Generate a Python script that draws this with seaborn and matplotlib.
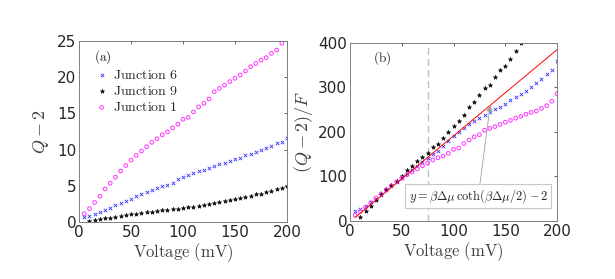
import numpy as np
import pandas as pd
import seaborn as sns
import matplotlib
matplotlib.use("Agg")
import matplotlib.pyplot as plt

# voltages (mV)
volt = list(range(5, 205, 5))

# panel (a): Q - 2
j6_q = [0.7, 0.8, 1.15, 1.4, 1.7, 2.0, 2.35, 2.65, 2.95, 3.2, 3.55, 3.8, 4.1, 4.4, 4.65, 4.95,
        5.15, 5.45, 5.9, 6.2, 6.45, 6.8, 7.0, 7.25, 7.45, 7.7, 7.95, 8.15, 8.45, 8.65, 8.9, 9.2,
        9.4, 9.7, 9.95, 10.25, 10.5, 10.85, 11.1, 11.55]
j9_q = [np.nan, 0.15, 0.25, 0.4, 0.5, 0.6, 0.75, 0.85, 0.95, 1.05, 1.15, 1.25, 1.35, 1.45, 1.5,
        1.6, 1.7, 1.75, 1.85, 1.95, 2.05, 2.1, 2.25, 2.35, 2.5, 2.65, 2.7, 2.9, 3.05, 3.15, 3.25,
        3.45, 3.6, 3.8, 3.9, 4.1, 4.3, 4.5, 4.7, 4.95]
j1_q = [1.15, 1.85, 2.7, 3.55, 4.57, 5.35, 6.2, 7.05, 7.8, 8.55, 9.2, 9.8, 10.4, 11.0, 11.5,
        12.05, 12.45, 13.0, 13.5, 14.2, 14.45, 15.2, 15.9, 16.4, 17.0, 18.0, 18.45, 18.9, 19.4,
        19.85, 20.3, 20.85, 21.45, 21.9, 22.35, 22.7, 23.3, 23.75, 24.7, 26.2]

# panel (b): (Q - 2)/F
j6_f = [22, 28, 34, 42, 49, 58, 70, 79, 87, 96, 105, 115, 124, 133, 142, 150, 158, 168, 180,
        191, 200, 209, 218, 224, 231, 238, 244, 251, 257, 264, 273, 279, 285, 292, 300, 309,
        318, 330, 339, 360]
j9_f = [np.nan, 10, 23, 34, 47, 61, 71, 81, 90, 102, 114, 123, 134, 144, 153, 167, 173, 187,
        199, 214, 225, 239, 256, 268, 283, 298, 305, 324, 340, 349, 365, 381, 400, 418, 436,
        455, 472, 492, 510, 530]
j1_f = [13, 21, 31, 41, 52, 61, 70, 79, 88, 96, 104, 110, 117, 124, 130, 137, 142, 146, 152,
        161, 164, 174, 182, 189, 194, 204, 208, 212, 217, 222, 226, 231, 235, 240, 244, 247,
        253, 259, 269, 286]

# theory line
fit_v = [5, 75, 135, 200]
fit_y = [8, 143, 259, 385]

labels = ["Junction 6", "Junction 9", "Junction 1"]

sns.set_theme(style="white")
plt.rcParams["font.family"] = ["DejaVu Sans"]
plt.rcParams["mathtext.fontset"] = "cm"

tick_col = "#262626"
styles = {
    "Junction 6": dict(marker="x", s=6, color="#3333ff", linewidth=0.6),
    "Junction 9": dict(marker="*", s=9, color="#111111", edgecolor="#111111", linewidth=0.5),
    "Junction 1": dict(marker="o", s=7, facecolor="none", edgecolor="#ff33ff", linewidth=0.7),
}

fig = plt.figure(figsize=(6.15, 2.79), dpi=100)
ax1 = fig.add_axes([0.1285, 0.2043, 0.3382, 0.6487])
ax2 = fig.add_axes([0.5691, 0.2079, 0.3366, 0.638])

df_a = pd.DataFrame({"v": volt, "Junction 6": j6_q, "Junction 9": j9_q, "Junction 1": j1_q})
df_b = pd.DataFrame({"v": volt, "Junction 6": j6_f, "Junction 9": j9_f, "Junction 1": j1_f})

for name in labels:
    lab = r"$\mathrm{" + name.replace(" ", r"\ ") + "}$"
    sns.scatterplot(data=df_a, x="v", y=name, ax=ax1, label=lab, **styles[name])
    sns.scatterplot(data=df_b, x="v", y=name, ax=ax2, legend=False, **styles[name])

ax2.axvline(75, color="#c0c0c0", ls=(0, (5, 3)), lw=1.0, zorder=0)
sns.lineplot(x=fit_v, y=fit_y, ax=ax2, color="red", lw=0.7)

ax1.set_xlim(0, 200)
ax1.set_ylim(0, 25)
ax1.set_yticks([0, 5, 10, 15, 20, 25])
ax2.set_xlim(0, 200)
ax2.set_ylim(0, 400)
ax2.set_yticks([0, 100, 200, 300, 400])

for ax in (ax1, ax2):
    ax.set_xticks([0, 50, 100, 150, 200])
    ax.tick_params(direction="in", length=2.5, width=0.5, colors=tick_col,
                   labelsize=11, top=True, right=True, pad=2)
    for sp in ax.spines.values():
        sp.set_color("#7f7f7f")
        sp.set_linewidth(0.7)
    ax.set_xlabel(r"$\mathrm{Voltage\ (mV)}$", fontsize=12, color="#404040", labelpad=1)

ax1.set_ylabel(r"$Q-2$", fontsize=13, color="#404040", labelpad=4)
ax2.set_ylabel(r"$(Q-2)/F$", fontsize=13, color="#404040", labelpad=2)

ax1.text(14, 22.8, r"$\mathrm{(a)}$", fontsize=9.5, va="center")
ax2.text(22, 366, r"$\mathrm{(b)}$", fontsize=9.5, va="center")

leg = ax1.legend(loc="upper left", bbox_to_anchor=(0.055, 0.89), frameon=False,
                 prop={"size": 10}, handlelength=0.6, handletextpad=0.5,
                 labelspacing=0.15, borderpad=0)

ax2.annotate(r"$y=\beta\Delta\mu\,\coth(\beta\Delta\mu/2)-2$", xy=(135.5, 260), xytext=(124, 56),
             ha="center", va="center", fontsize=9,
             bbox=dict(boxstyle="square,pad=0.25", fc="white", ec="#c8c8c8", lw=0.8),
             arrowprops=dict(arrowstyle="-|>", color="#a0a0a0", lw=0.6, shrinkA=0, shrinkB=0))

fig.savefig("out.png", dpi=100)
